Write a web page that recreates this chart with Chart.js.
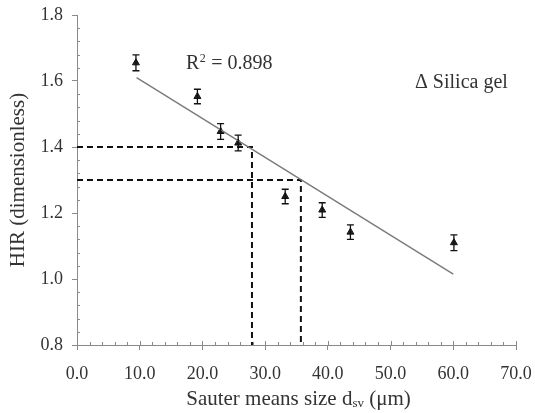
<!DOCTYPE html>
<html lang="en">
<head>
    <meta charset="UTF-8">
    <title>HIR vs Sauter mean size</title>
    <script src="https://cdn.jsdelivr.net/npm/chart.js@4.4.0/dist/chart.umd.min.js"></script>
    <style>
        body { margin: 0; background: #fff; }
    </style>
</head>
<body>
    <canvas id="hirChart" width="535" height="413"></canvas>

    <script>
        // measured points (silica gel)
        const sizeVals = [9.4, 19.2, 22.9, 25.7, 33.2, 39.1, 43.6, 60.1];
        const hirVals = [1.655, 1.553, 1.447, 1.412, 1.250, 1.209, 1.142, 1.110];
        const hirErr = [0.024, 0.022, 0.024, 0.024, 0.022, 0.022, 0.022, 0.024];

        // linear fit
        const fitX = [9.5, 60.0];
        const fitY = [1.61, 1.015];

        // dashed guide lines
        const guideX = [27.9, 35.7];
        const guideY = [1.4, 1.3];

        const xTicks = [0, 10, 20, 30, 40, 50, 60, 70];
        const yTicks = [0.8, 1.0, 1.2, 1.4, 1.6, 1.8];

        const serif = "'Liberation Serif', 'Times New Roman', serif";
        const axisGrey = '#8a8a8a';
        const textCol = '#333';

        const pts = sizeVals.map((x, i) => ({ x: x, y: hirVals[i] }));
        const fitPts = fitX.map((x, i) => ({ x: x, y: fitY[i] }));
        const guide = (i) => [
            { x: 0, y: guideY[i] },
            { x: guideX[i], y: guideY[i] },
            { x: guideX[i], y: 0.8 }
        ];

        // error bars, minor ticks and free text
        const extras = {
            id: 'extras',
            afterDatasetsDraw(chart) {
                const ctx = chart.ctx;
                const xs = chart.scales.x, ys = chart.scales.y;
                ctx.save();
                ctx.strokeStyle = '#111';
                ctx.lineWidth = 1.3;
                pts.forEach((p, i) => {
                    const px = xs.getPixelForValue(p.x);
                    const top = ys.getPixelForValue(p.y + hirErr[i]);
                    const bot = ys.getPixelForValue(p.y - hirErr[i]);
                    ctx.beginPath();
                    ctx.moveTo(px, top); ctx.lineTo(px, bot);
                    ctx.moveTo(px - 3.5, top); ctx.lineTo(px + 3.5, top);
                    ctx.moveTo(px - 3.5, bot); ctx.lineTo(px + 3.5, bot);
                    ctx.stroke();
                });
                ctx.restore();
            },
            afterDraw(chart) {
                const ctx = chart.ctx;
                const xs = chart.scales.x, ys = chart.scales.y;
                const area = chart.chartArea;
                ctx.save();
                // minor ticks
                ctx.strokeStyle = axisGrey;
                ctx.lineWidth = 1;
                for (let v = 0; v <= 70; v += 2) {
                    if (v % 10 === 0) continue;
                    const px = Math.round(xs.getPixelForValue(v)) + 0.5;
                    ctx.beginPath();
                    ctx.moveTo(px, area.bottom); ctx.lineTo(px, area.bottom - 3);
                    ctx.stroke();
                }
                for (let k = 0; k <= 25; k++) {
                    if (k % 5 === 0) continue;
                    const py = Math.round(ys.getPixelForValue(0.8 + k * 0.04)) + 0.5;
                    ctx.beginPath();
                    ctx.moveTo(area.left, py); ctx.lineTo(area.left + 3, py);
                    ctx.stroke();
                }
                // major x ticks poke up into the plot
                xTicks.forEach(v => {
                    const px = Math.round(xs.getPixelForValue(v)) + 0.5;
                    ctx.beginPath();
                    ctx.moveTo(px, area.bottom); ctx.lineTo(px, area.bottom - 4);
                    ctx.stroke();
                });

                ctx.fillStyle = textCol;
                ctx.textBaseline = 'middle';
                // R squared
                ctx.font = '20px ' + serif;
                ctx.textAlign = 'left';
                let tx = 186, ty = 64;
                ctx.fillText('R', tx, ty);
                tx += ctx.measureText('R').width;
                ctx.font = '12px ' + serif;
                ctx.fillText('2', tx + 0.5, ty - 5);
                tx += ctx.measureText('2').width + 1;
                ctx.font = '20px ' + serif;
                ctx.fillText(' = 0.898', tx, ty);
                // legend-like label
                ctx.fillText('\u0394 Silica gel', 415, 83);

                // x title with subscript
                const parts = ['Sauter means size d', 'sv', ' (\u03bcm)'];
                ctx.font = '21px ' + serif;
                const w0 = ctx.measureText(parts[0]).width;
                const w2 = ctx.measureText(parts[2]).width;
                ctx.font = '13px ' + serif;
                const w1 = ctx.measureText(parts[1]).width;
                let sx = (area.left + area.right) / 2 - (w0 + w1 + w2) / 2 + 2;
                const sy = 399;
                ctx.font = '21px ' + serif;
                ctx.fillText(parts[0], sx, sy);
                sx += w0;
                ctx.font = '13px ' + serif;
                ctx.fillText(parts[1], sx, sy + 5);
                sx += w1;
                ctx.font = '21px ' + serif;
                ctx.fillText(parts[2], sx, sy);

                // y title
                ctx.translate(18, (area.top + area.bottom) / 2);
                ctx.rotate(-Math.PI / 2);
                ctx.textAlign = 'center';
                ctx.fillText('HIR (dimensionless)', 0, 0);
                ctx.restore();
            }
        };

        const ctx = document.getElementById('hirChart').getContext('2d');
        const hirChart = new Chart(ctx, {
            type: 'scatter',
            data: {
                datasets: [
                    {
                        label: 'Fit',
                        data: fitPts,
                        showLine: true,
                        borderColor: '#7a7a7a',
                        borderWidth: 1.4,
                        pointRadius: 0
                    },
                    {
                        label: 'Guide 1.4',
                        data: guide(0),
                        showLine: true,
                        borderColor: '#111',
                        borderWidth: 2,
                        borderDash: [6, 4],
                        pointRadius: 0
                    },
                    {
                        label: 'Guide 1.3',
                        data: guide(1),
                        showLine: true,
                        borderColor: '#111',
                        borderWidth: 2,
                        borderDash: [6, 4],
                        pointRadius: 0
                    },
                    {
                        label: 'Silica gel',
                        data: pts,
                        pointStyle: 'triangle',
                        pointRadius: 4,
                        backgroundColor: '#222',
                        borderColor: '#111',
                        borderWidth: 1
                    }
                ]
            },
            options: {
                responsive: false,
                animation: false,
                layout: { padding: { left: 0, right: 19, top: 15, bottom: 0 } },
                plugins: {
                    legend: { display: false },
                    tooltip: { enabled: false }
                },
                scales: {
                    x: {
                        type: 'linear',
                        min: 0,
                        max: 70,
                        afterFit: (s) => { s.height = 68; s.paddingLeft = 0; s.paddingRight = 0; },
                        afterBuildTicks: (s) => { s.ticks = xTicks.map(v => ({ value: v })); },
                        ticks: {
                            padding: 13,
                            color: textCol,
                            font: { family: serif, size: 18 },
                            callback: (v) => Number(v).toFixed(1),
                            maxRotation: 0
                        },
                        grid: {
                            drawOnChartArea: false,
                            drawTicks: true,
                            tickLength: 5,
                            color: axisGrey
                        },
                        border: { color: axisGrey, width: 1 }
                    },
                    y: {
                        min: 0.8,
                        max: 1.8,
                        afterFit: (s) => { s.width = 77; s.paddingTop = 0; s.paddingBottom = 0; },
                        afterBuildTicks: (s) => { s.ticks = yTicks.map(v => ({ value: v })); },
                        ticks: {
                            padding: 9,
                            color: textCol,
                            font: { family: serif, size: 18 },
                            callback: (v) => Number(v).toFixed(1)
                        },
                        grid: {
                            drawOnChartArea: false,
                            drawTicks: true,
                            tickLength: 5,
                            color: axisGrey
                        },
                        border: { color: axisGrey, width: 1 }
                    }
                }
            },
            plugins: [extras]
        });
    </script>
</body>
</html>
